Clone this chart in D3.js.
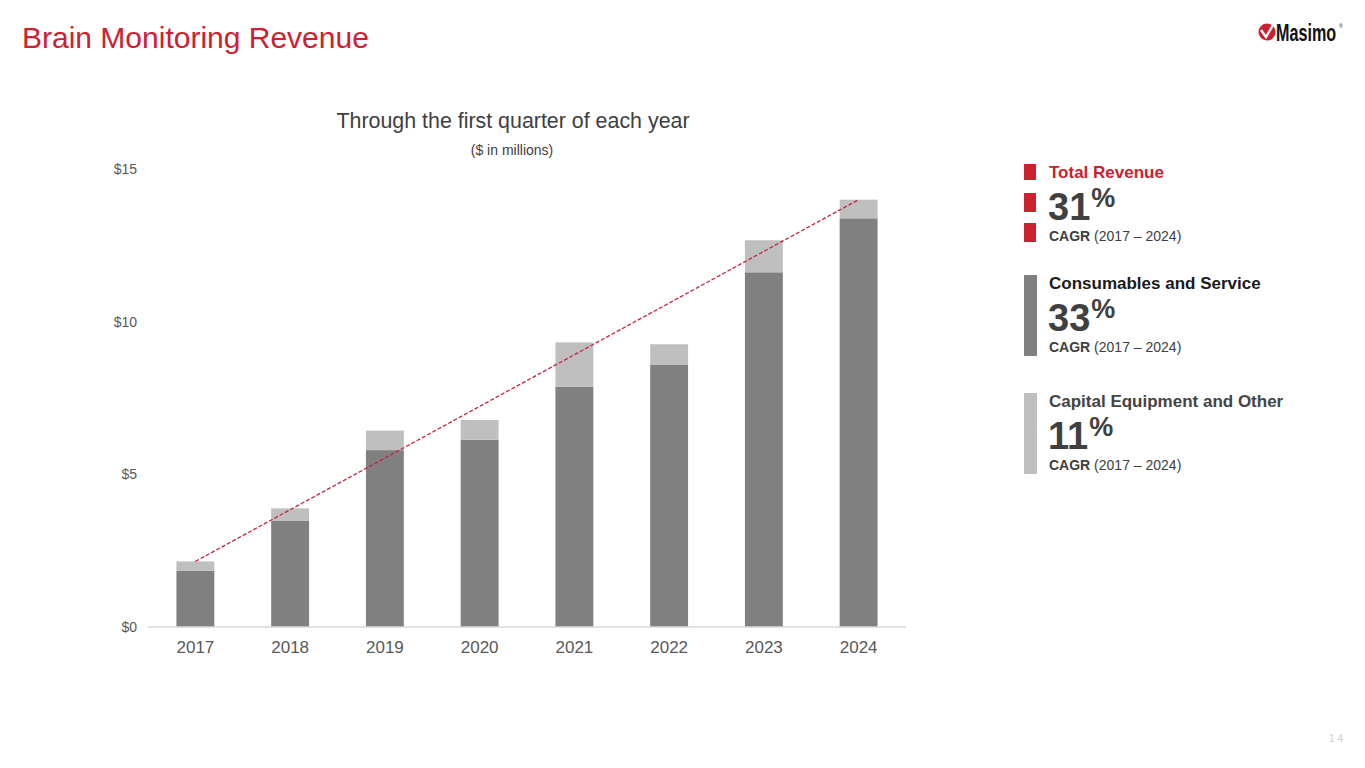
<!DOCTYPE html>
<html>
<head>
<meta charset="utf-8">
<script src="https://cdn.jsdelivr.net/npm/d3@7"></script>
<style>
  body { margin: 0; background: #fff; }
  svg { font-family: "Liberation Sans", Arial, sans-serif; display: block; }
</style>
</head>
<body>
<div id="chart"></div>
<script>
// === DATA ===
const years = ["2017", "2018", "2019", "2020", "2021", "2022", "2023", "2024"];
const consumables = [1.84, 3.49, 5.80, 6.14, 7.88, 8.59, 11.63, 13.40];
const capital = [0.31, 0.40, 0.64, 0.65, 1.45, 0.68, 1.05, 0.61];
const yTicks = [0, 5, 10, 15];

const legendItems = [
  { name: "Total Revenue", cagr: "31", color: "#cc2131", text: "#cc2131", split: true },
  { name: "Consumables and Service", cagr: "33", color: "#808080", text: "#1a1a1a", split: false },
  { name: "Capital Equipment and Other", cagr: "11", color: "#bfbfbf", text: "#444444", split: false }
];

const W = 1365, H = 768;
const svg = d3.select("#chart").append("svg")
  .attr("width", W).attr("height", H);

// === TITLE ===
svg.append("text")
  .attr("x", 22).attr("y", 48)
  .attr("font-size", 30).attr("fill", "#cc2131")
  .text("Brain Monitoring Revenue");

svg.append("text")
  .attr("x", 513).attr("y", 128)
  .attr("text-anchor", "middle")
  .attr("font-size", 21.4).attr("fill", "#404040")
  .text("Through the first quarter of each year");

svg.append("text")
  .attr("x", 512).attr("y", 155)
  .attr("text-anchor", "middle")
  .attr("font-size", 14).attr("fill", "#404040")
  .text("($ in millions)");

// === SCALES ===
const x = d3.scaleBand()
  .domain(years)
  .range([148, 906])
  .paddingInner(0.6)
  .paddingOuter(0.3);

const y = d3.scaleLinear()
  .domain([0, 15])
  .range([627, 169.5]);

// === Y AXIS (labels only) ===
const yAxis = svg.append("g")
  .attr("transform", "translate(137,0)")
  .call(d3.axisLeft(y).tickValues(yTicks).tickSize(0).tickPadding(0).tickFormat(d => "$" + d));
yAxis.select(".domain").remove();
yAxis.selectAll("text")
  .attr("font-size", 14).attr("fill", "#595959")
  .attr("font-family", "Liberation Sans, Arial, sans-serif");

// === STACKED BARS ===
const rows = years.map((yr, i) => ({ year: yr, consumables: consumables[i], capital: capital[i] }));
const stack = d3.stack().keys(["consumables", "capital"])(rows);
const fills = { consumables: "#808080", capital: "#bfbfbf" };

svg.selectAll("g.series")
  .data(stack)
  .enter().append("g")
  .attr("class", "series")
  .attr("fill", d => fills[d.key])
  .selectAll("rect")
  .data(d => d)
  .enter().append("rect")
  .attr("x", d => x(d.data.year))
  .attr("width", x.bandwidth())
  .attr("y", d => y(d[1]))
  .attr("height", d => y(d[0]) - y(d[1]));

// === X AXIS ===
const xAxis = svg.append("g")
  .attr("transform", "translate(0,627)")
  .call(d3.axisBottom(x).tickSize(0).tickPadding(14));
xAxis.select(".domain").attr("stroke", "#d9d9d9").attr("stroke-width", 1.5)
  .attr("d", "M148,0H906");
xAxis.selectAll("text")
  .attr("font-size", 17).attr("fill", "#595959")
  .attr("font-family", "Liberation Sans, Arial, sans-serif");

// === TREND LINE (total revenue first to last) ===
const first = 0, last = years.length - 1;
const total = i => consumables[i] + capital[i];
svg.append("line")
  .attr("x1", x(years[first]) + x.bandwidth() / 2)
  .attr("y1", y(total(first)))
  .attr("x2", x(years[last]) + x.bandwidth() / 2)
  .attr("y2", y(total(last)))
  .attr("stroke", "#c0273f")
  .attr("stroke-width", 1.3)
  .attr("stroke-dasharray", "4 2");

// === LEGEND / CAGR BLOCKS ===
const legendTops = [164, 275, 393];
legendItems.forEach((d, i) => {
  const top = legendTops[i];
  const g = svg.append("g");
  if (d.split) {
    [[164, 180], [193, 212], [223, 242]].forEach(s => {
      g.append("rect").attr("x", 1024).attr("y", s[0])
        .attr("width", 12).attr("height", s[1] - s[0]).attr("fill", d.color);
    });
  } else {
    g.append("rect").attr("x", 1024).attr("y", top)
      .attr("width", 13).attr("height", 81).attr("fill", d.color);
  }
  g.append("text")
    .attr("x", 1049).attr("y", top + 14)
    .attr("font-size", 17).attr("font-weight", "bold").attr("fill", d.text)
    .text(d.name);
  const big = g.append("text")
    .attr("x", 1048).attr("y", top + 56)
    .attr("font-size", 38).attr("font-weight", "bold").attr("fill", "#404040");
  big.append("tspan").text(d.cagr);
  big.append("tspan").attr("font-size", 27).attr("dx", 1).attr("dy", -13).text("%");
  const c = g.append("text")
    .attr("x", 1049).attr("y", top + 77)
    .attr("font-size", 14).attr("fill", "#404040");
  c.append("tspan").attr("font-weight", "bold").text("CAGR");
  c.append("tspan").text(" (2017 – 2024)");
});

// === LOGO ===
const logo = svg.append("g");
logo.append("circle").attr("cx", 1267).attr("cy", 32).attr("r", 8.5).attr("fill", "#cc2131");
logo.append("path")
  .attr("d", "M1261,30 L1266,37 L1273,25")
  .attr("fill", "none").attr("stroke", "#fff").attr("stroke-width", 2.4);
logo.append("text")
  .attr("transform", "translate(1276,41) scale(0.95,1.45)")
  .attr("font-size", 17).attr("font-weight", "bold").attr("fill", "#111")
  .text("Masimo");
logo.append("text")
  .attr("x", 1339).attr("y", 28)
  .attr("font-size", 5).attr("fill", "#111")
  .text("®");

// === PAGE NUMBER ===
svg.append("text")
  .attr("x", 1336).attr("y", 742)
  .attr("text-anchor", "middle")
  .attr("font-size", 10).attr("fill", "#d0d0d0")
  .text("1 4");
</script>
</body>
</html>
